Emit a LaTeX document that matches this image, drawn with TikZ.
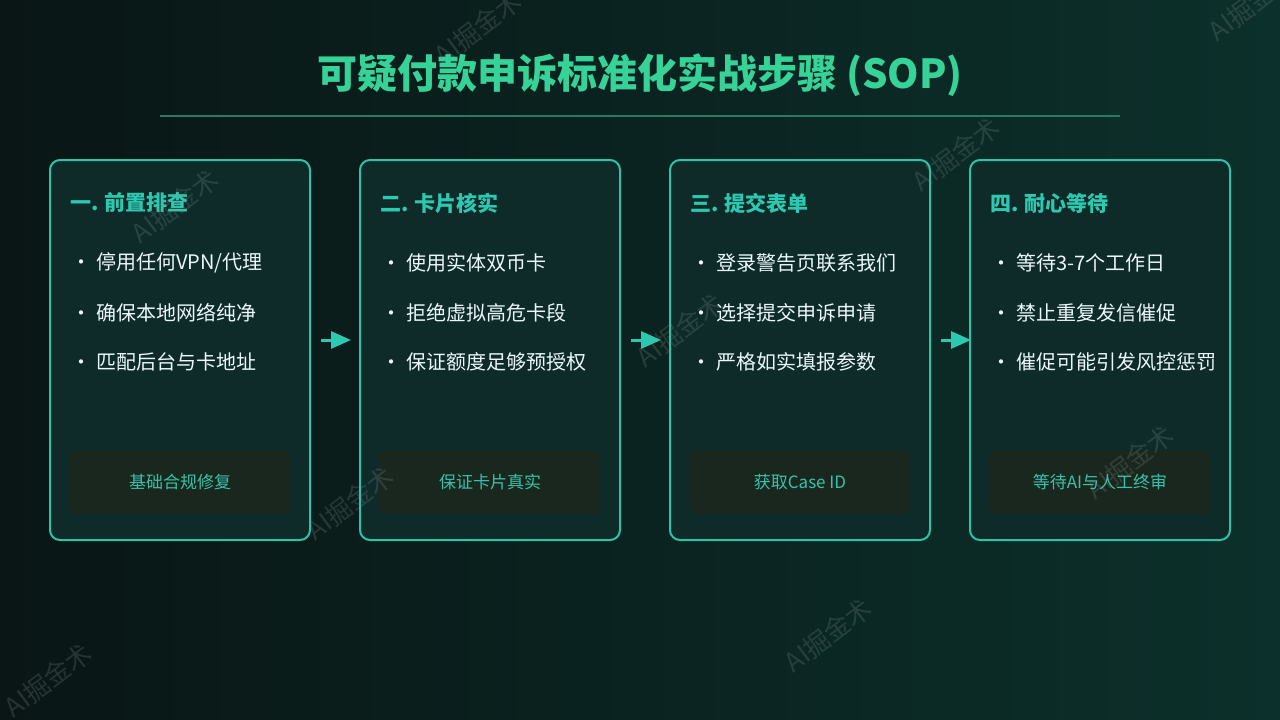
\documentclass[tikz,border=0pt]{standalone}
\usepackage{fontspec}
\newfontfamily\cjk{Noto Sans CJK SC}
\usepackage{tikz}
\usetikzlibrary{positioning,arrows.meta,calc}

\definecolor{bgleft}{HTML}{091615}
\definecolor{bgright}{HTML}{0C302B}
\definecolor{cardfill}{HTML}{0E2B29}
\definecolor{cardline}{HTML}{2EC2A6}
\definecolor{titlegreen}{HTML}{36D399}
\definecolor{headteal}{HTML}{2CC9B0}
\definecolor{tagfill}{HTML}{1A271F}
\definecolor{tagtext}{HTML}{35C3A8}
\definecolor{rulegreen}{HTML}{2A7A62}
\definecolor{wmgray}{HTML}{8A9A98}

\newcommand{\dotmark}{{\fontsize{20}{20}\selectfont •}\hspace{5pt}}

\begin{document}
\begin{tikzpicture}[
  x=1pt, y=-1pt,
  font=\cjk,
  card/.style={rectangle, rounded corners=10pt, draw=cardline, line width=2pt, fill=cardfill, minimum width=260pt, minimum height=380pt},
  head/.style={anchor=west, inner sep=0pt, text=headteal, font=\cjk\bfseries\fontsize{21}{24}\selectfont},
  item/.style={anchor=west, inner sep=0pt, text=white!92!cyan, font=\cjk\fontsize{20}{24}\selectfont},
  tag/.style={rectangle, rounded corners=5pt, fill=tagfill, minimum width=220pt, minimum height=63pt, text=tagtext, font=\cjk\fontsize{17}{20}\selectfont},
  flow/.style={draw=headteal, line width=3pt, -{Triangle[length=20pt, width=17pt]}, shorten <=10pt},
  wm/.style={rotate=37, text=wmgray, opacity=0.22, font=\cjk\fontsize{26}{30}\selectfont}
]

\shade[left color=bgleft, right color=bgright] (0,0) rectangle (1280,720);
\useasboundingbox (0,0) rectangle (1280,720);

\node[text=titlegreen, font=\cjk\bfseries\fontsize{40}{46}\selectfont] (title) at (640,75) {可疑付款申诉标准化实战步骤 (SOP)};
\coordinate (rl) at (160,116);
\coordinate (rr) at (1120,116);
\draw[rulegreen, line width=1.5pt] (rl) -- (rr);

\node[card] (b1) at (180,350) {};
\node[card] (b2) at (490,350) {};
\node[card] (b3) at (800,350) {};
\node[card] (b4) at (1100,350) {};

\node[head] (h1) at (70,203) {一. 前置排查};
\node[head] (h2) at (380,203) {二. 卡片核实};
\node[head] (h3) at (690,203) {三. 提交表单};
\node[head] (h4) at (990,203) {四. 耐心等待};

\node[item] (i11) at (71,263) {\dotmark 停用任何VPN/代理};
\node[item] (i12) at (71,313) {\dotmark 确保本地网络纯净};
\node[item] (i13) at (71,362) {\dotmark 匹配后台与卡地址};
\node[item] (i21) at (381,263) {\dotmark 使用实体双币卡};
\node[item] (i22) at (381,313) {\dotmark 拒绝虚拟高危卡段};
\node[item] (i23) at (381,362) {\dotmark 保证额度足够预授权};
\node[item] (i31) at (691,263) {\dotmark 登录警告页联系我们};
\node[item] (i32) at (691,313) {\dotmark 选择提交申诉申请};
\node[item] (i33) at (691,362) {\dotmark 严格如实填报参数};
\node[item] (i41) at (991,263) {\dotmark 等待3-7个工作日};
\node[item] (i42) at (991,313) {\dotmark 禁止重复发信催促};
\node[item] (i43) at (991,362) {\dotmark 催促可能引发风控惩罚};

\node[tag] (t1) at (180,482) {基础合规修复};
\node[tag] (t2) at (490,482) {保证卡片真实};
\node[tag] (t3) at (800,482) {获取Case ID};
\node[tag] (t4) at (1100,482) {等待AI与人工终审};

\draw[flow, shorten >=8pt] ([yshift=10pt]b1.east) -- ([yshift=10pt]b2.west);
\draw[flow, shorten >=8pt] ([yshift=10pt]b2.east) -- ([yshift=10pt]b3.west);
\draw[flow, shorten >=-2pt] ([yshift=10pt]b3.east) -- ([yshift=10pt]b4.west);

\node[wm] (w1) at (478,28) {AI掘金术};
\node[wm] (w2) at (1252,4) {AI掘金术};
\node[wm] (w3) at (175,206) {AI掘金术};
\node[wm] (w4) at (956,154) {AI掘金术};
\node[wm] (w5) at (680,330) {AI掘金术};
\node[wm] (w6) at (350,503) {AI掘金术};
\node[wm] (w7) at (1130,462) {AI掘金术};
\node[wm] (w8) at (828,635) {AI掘金术};
\node[wm] (w9) at (48,680) {AI掘金术};

\end{tikzpicture}
\end{document}
